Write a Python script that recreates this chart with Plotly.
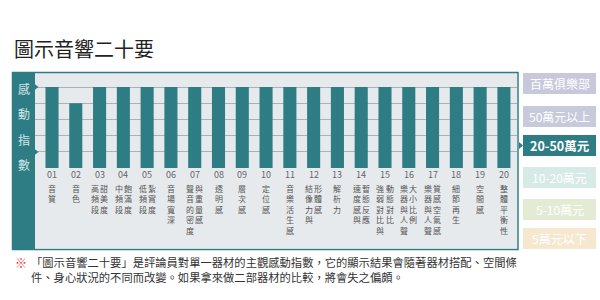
import plotly.graph_objects as go

# ---- data ----
nums = [f"{i:02d}" for i in range(1, 21)]
values = [5, 4, 5, 5, 5, 5, 5, 5, 5, 5, 5, 5, 5, 5, 5, 5, 5, 5, 5, 5]
label_left = ["音質", "音色", "高頻段", "中頻段", "低頻段", "音場寬深", "聲音的密度", "透明感", "層次感", "定位感",
              "音樂活生感", "結像力與", "解析力", "速度感與", "強弱對比與", "樂器與人聲", "樂器與人聲", "細節再生", "空間感", "整體平衡性"]
label_right = ["", "", "甜美度", "飽滿度", "紮實度", "", "與重量感", "", "", "",
               "", "形體感", "", "暫態反應", "動態對比", "大小比例", "質感空氣感", "", "", ""]
side_chars = ["感", "動", "指", "數"]
tiers = ["百萬俱樂部", "50萬元以上", "20-50萬元", "10-20萬元", "5-10萬元", "5萬元以下"]
tier_colors = ["#c8c8dc", "#c6cadb", "#2f7d84", "#d6ebe6", "#e4ebd4", "#f6e8cf"]
active_tier = 2
title = "圖示音響二十要"
note1 = "「圖示音響二十要」是評論員對單一器材的主觀感動指數，它的顯示結果會隨著器材搭配、空間條"
note2 = "件、身心狀況的不同而改變。如果拿來做二部器材的比較，將會失之偏頗。"

W, H = 600, 300
TEAL = "#2f7d84"
FONT = "Noto Sans CJK TC"

def px(x):
    return x / W

def py(y):
    return 1 - y / H

fig = go.Figure()
fig.add_trace(go.Bar(x=list(range(20)), y=values, width=0.55,
                     marker=dict(color=TEAL, line=dict(width=0)), hoverinfo="skip"))

shapes = []
# background panel
shapes.append(dict(type="rect", xref="paper", yref="paper", x0=px(35), x1=px(517), y0=py(248), y1=py(73),
                   fillcolor="#e7eaec", line=dict(width=0), layer="below"))
# left teal column
shapes.append(dict(type="rect", xref="paper", yref="paper", x0=px(12), x1=px(35), y0=py(249.5), y1=py(72),
                   fillcolor=TEAL, line=dict(width=0), layer="above"))
# frame
shapes.append(dict(type="rect", xref="paper", yref="paper", x0=px(12.5), x1=px(518), y0=py(249.5), y1=py(72.5),
                   fillcolor="rgba(0,0,0,0)", line=dict(width=1.5, color=TEAL), layer="above"))
# pointer triangles on left column
for yy in (87, 152):
    shapes.append(dict(type="path", xref="paper", yref="paper",
                       path=f"M {px(34)},{py(yy-3.5)} L {px(38.5)},{py(yy)} L {px(34)},{py(yy+3.5)} Z",
                       fillcolor=TEAL, line=dict(width=0), layer="above"))

annotations = []
annotations.append(dict(text=title, xref="paper", yref="paper", x=px(12), y=py(48), xanchor="left", yanchor="middle",
                        showarrow=False, font=dict(family=FONT, size=20, color="#222")))
for k, ch in enumerate(side_chars):
    annotations.append(dict(text=ch, xref="paper", yref="paper", x=px(23.5), y=py(88 + k * 25.6),
                            xanchor="center", yanchor="middle", showarrow=False,
                            font=dict(family=FONT, size=12, color="#d3e5e7")))

# category labels: number row + vertical text columns
for i in range(20):
    annotations.append(dict(text=nums[i], x=i, xref="x", yref="paper", y=py(174.5), xanchor="center",
                            yanchor="middle", showarrow=False, borderpad=0,
                            font=dict(family=FONT, size=9, color="#666")))
    two = bool(label_right[i])
    for col, txt in ((0, label_left[i]), (1, label_right[i])):
        if not txt:
            continue
        shift = 0 if not two else (-4.6 if col == 0 else 4.6)
        annotations.append(dict(text="<br>".join(txt), x=i, xref="x", yref="paper", y=py(181.6), xshift=shift,
                                xanchor="center", yanchor="top", showarrow=False, borderpad=0,
                                font=dict(family=FONT, size=8, color="#555")))

# tier boxes
tops = [73, 106, 135, 167, 199, 228]
for k, (t, c) in enumerate(zip(tiers, tier_colors)):
    y0 = tops[k]
    shapes.append(dict(type="rect", xref="paper", yref="paper", x0=px(523), x1=px(596), y0=py(y0 + 21), y1=py(y0),
                       fillcolor=c, line=dict(width=0)))
    annotations.append(dict(text=(f"<b>{t}</b>" if k == active_tier else t), xref="paper", yref="paper",
                            x=px(559.5), y=py(y0 + 10.5), xanchor="center", yanchor="middle", showarrow=False,
                            font=dict(family=FONT, size=12.5 if k == active_tier else 12, color="white")))
    if k == active_tier:
        yy = y0 + 10.5
        shapes.append(dict(type="path", xref="paper", yref="paper",
                           path=f"M {px(519)},{py(yy-3.5)} L {px(523)},{py(yy)} L {px(519)},{py(yy+3.5)} Z",
                           fillcolor=TEAL, line=dict(width=0)))

# note
annotations.append(dict(text="※", xref="paper", yref="paper", x=px(13), y=py(262), xanchor="left", yanchor="middle",
                        showarrow=False, font=dict(family=FONT, size=12, color="#e0393e")))
annotations.append(dict(text=note1, xref="paper", yref="paper", x=px(29), y=py(262), xanchor="left", yanchor="middle",
                        showarrow=False, font=dict(family=FONT, size=11.3, color="#333")))
annotations.append(dict(text=note2, xref="paper", yref="paper", x=px(29), y=py(277), xanchor="left", yanchor="middle",
                        showarrow=False, font=dict(family=FONT, size=11.3, color="#333")))

fig.update_layout(
    width=W, height=H, margin=dict(l=0, r=0, t=0, b=0),
    paper_bgcolor="white", plot_bgcolor="rgba(0,0,0,0)", showlegend=False,
    xaxis=dict(domain=[px(35), px(517)], range=[-0.715, 19.55], showticklabels=False, showgrid=False,
               zeroline=False, fixedrange=True),
    yaxis=dict(domain=[py(168), py(73)], range=[0, 95 / 16.2], tickvals=[1, 2, 3, 4, 5], showticklabels=False,
               showgrid=True, gridcolor="#a9b2b6", gridwidth=1, zeroline=False, fixedrange=True),
    shapes=shapes, annotations=annotations,
)

fig.write_html("out.html")
